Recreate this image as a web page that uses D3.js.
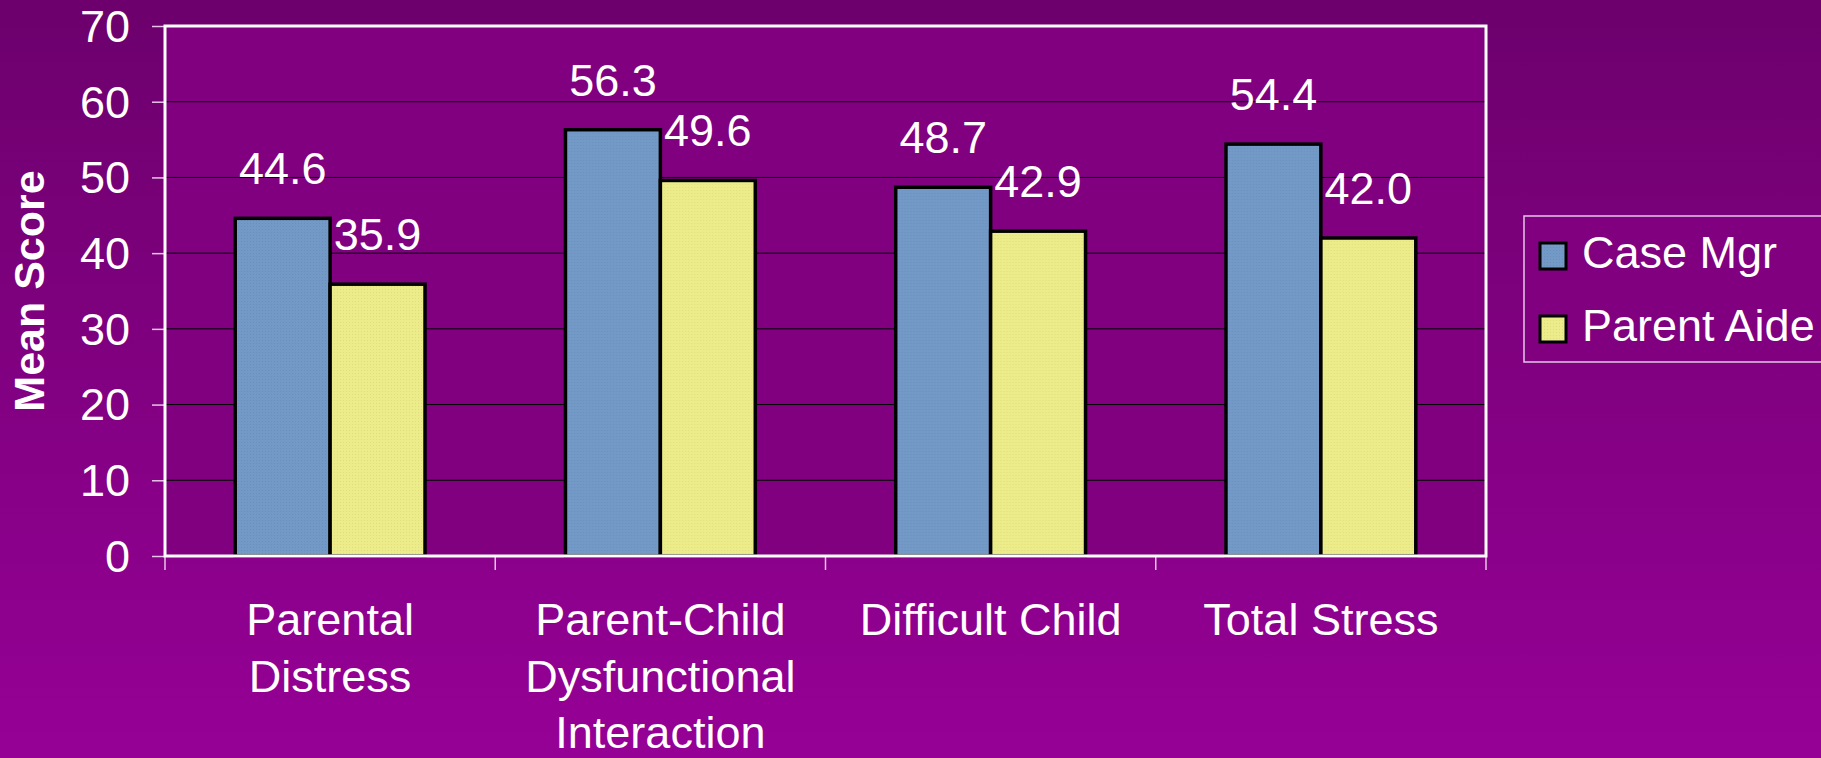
<!DOCTYPE html>
<html>
<head>
<meta charset="utf-8">
<script src="https://cdn.jsdelivr.net/npm/d3@7"></script>
<style>
  html, body { margin: 0; padding: 0; }
  body { width: 1821px; height: 758px; overflow: hidden; }
  text { font-family: Arial, "Liberation Sans", sans-serif; fill: #fff; }
</style>
</head>
<body>
<script>
// chart data
const categories = ["Parental Distress", "Parent-Child Dysfunctional Interaction", "Difficult Child", "Total Stress"]
const categoryLines = [["Parental", "Distress"], ["Parent-Child", "Dysfunctional", "Interaction"], ["Difficult Child"], ["Total Stress"]]
const series = ["Case Mgr", "Parent Aide"]
const caseMgr = [44.6, 56.3, 48.7, 54.4]
const parentAide = [35.9, 49.6, 42.9, 42.0]
const yTicks = [0, 10, 20, 30, 40, 50, 60, 70]
const colors = ["#7399c6", "#ecec8a"]

let W = 1821, H = 758
let plot = {left: 165, right: 1486, top: 26, bottom: 556}

let svg = d3.select("body").append("svg")
    .attr("width", W)
    .attr("height", H)

let defs = svg.append("defs")
let grad = defs.append("linearGradient").attr("id", "bg")
    .attr("x1", 0).attr("y1", 0).attr("x2", 0).attr("y2", 1)
grad.append("stop").attr("offset", "0%").attr("stop-color", "#6d006d")
grad.append("stop").attr("offset", "100%").attr("stop-color", "#960096")

// little dotted texture like the original fills
function texture(id, base, dot) {
    let p = defs.append("pattern").attr("id", id)
        .attr("width", 3).attr("height", 3).attr("patternUnits", "userSpaceOnUse")
    p.append("rect").attr("width", 3).attr("height", 3).attr("fill", base)
    p.append("rect").attr("x", 1).attr("y", 1).attr("width", 1).attr("height", 1).attr("fill", dot)
}
texture("pBlue", colors[0], "#6a8fbd")
texture("pYellow", colors[1], "#dede7e")

svg.append("rect").attr("width", W).attr("height", H).attr("fill", "url(#bg)")

let x0 = d3.scaleBand().domain(categories).range([plot.left, plot.right]).padding(0)
let x1 = d3.scaleBand().domain(series).range([0, x0.bandwidth()]).paddingInner(0).paddingOuter(0.74)
let y = d3.scaleLinear().domain([0, 70]).range([plot.bottom, plot.top])

// plot area
svg.append("rect")
    .attr("x", plot.left).attr("y", plot.top)
    .attr("width", plot.right - plot.left).attr("height", plot.bottom - plot.top)
    .attr("fill", "#800080")

// gridlines
svg.append("g").selectAll("line")
    .data(yTicks.filter(d => d > 0 && d < 70))
    .enter().append("line")
    .attr("x1", plot.left).attr("x2", plot.right)
    .attr("y1", d => y(d)).attr("y2", d => y(d))
    .attr("stroke", "#000").attr("stroke-width", 1)

// y axis
let yAxis = svg.append("g")
    .attr("transform", `translate(${plot.left},0)`)
    .call(d3.axisLeft(y).tickValues(yTicks).tickSize(13).tickPadding(22))
yAxis.select(".domain").remove()
yAxis.selectAll(".tick line").attr("stroke", "#e6c6e6").attr("stroke-width", 1.5)
yAxis.selectAll(".tick text")
    .attr("fill", "#fff").attr("font-size", 45)
    .attr("font-family", "Arial, 'Liberation Sans', sans-serif")
    .attr("dy", "0.34em")

// x axis ticks at band edges
let xEdges = categories.map(c => x0(c)).concat([plot.right])
svg.append("g").selectAll("line")
    .data(xEdges)
    .enter().append("line")
    .attr("x1", d => d).attr("x2", d => d)
    .attr("y1", plot.bottom).attr("y2", plot.bottom + 14)
    .attr("stroke", "#e6c6e6").attr("stroke-width", 1.5)

// bars
let rows = categories.map((c, i) => ({cat: c, vals: [caseMgr[i], parentAide[i]]}))
let groups = svg.append("g").selectAll("g")
    .data(rows)
    .enter().append("g")
    .attr("transform", d => `translate(${x0(d.cat)},0)`)

groups.selectAll("rect")
    .data(d => d.vals.map((v, j) => ({s: series[j], v: v, j: j})))
    .enter().append("rect")
    .attr("x", d => x1(d.s))
    .attr("y", d => y(d.v))
    .attr("width", x1.bandwidth())
    .attr("height", d => y(0) - y(d.v))
    .attr("fill", d => d.j == 0 ? "url(#pBlue)" : "url(#pYellow)")
    .attr("stroke", "#000").attr("stroke-width", 3.5)

groups.selectAll("text")
    .data(d => d.vals.map((v, j) => ({s: series[j], v: v})))
    .enter().append("text")
    .attr("x", d => x1(d.s) + x1.bandwidth() / 2)
    .attr("y", d => y(d.v) - 34)
    .attr("text-anchor", "middle")
    .attr("font-size", 45)
    .text(d => d.v.toFixed(1))

// plot frame
svg.append("rect")
    .attr("x", plot.left).attr("y", plot.top)
    .attr("width", plot.right - plot.left).attr("height", plot.bottom - plot.top)
    .attr("fill", "none").attr("stroke", "#fff").attr("stroke-width", 3)

// category labels
let catLabels = svg.append("g").selectAll("text")
    .data(categories)
    .enter().append("text")
    .attr("x", d => x0(d) + x0.bandwidth() / 2)
    .attr("y", 635)
    .attr("text-anchor", "middle")
    .attr("font-size", 45)
catLabels.selectAll("tspan")
    .data((d, i) => categoryLines[i])
    .enter().append("tspan")
    .attr("x", function() { return d3.select(this.parentNode).attr("x") })
    .attr("dy", (d, i) => i == 0 ? 0 : 56.5)
    .text(d => d)

// y title
svg.append("text")
    .attr("transform", `translate(44,${(plot.top + plot.bottom) / 2}) rotate(-90)`)
    .attr("text-anchor", "middle")
    .attr("font-size", 43)
    .attr("font-weight", "bold")
    .text("Mean Score")

// legend
let legend = svg.append("g")
legend.append("rect")
    .attr("x", 1524).attr("y", 216).attr("width", 330).attr("height", 146)
    .attr("fill", "#800080").attr("stroke", "#e6c6e6").attr("stroke-width", 1.5)
let items = legend.selectAll("g.item")
    .data(series)
    .enter().append("g").attr("class", "item")
    .attr("transform", (d, i) => `translate(1540,${243 + i * 73})`)
items.append("rect")
    .attr("width", 26).attr("height", 26)
    .attr("fill", (d, i) => i == 0 ? "url(#pBlue)" : "url(#pYellow)")
    .attr("stroke", "#000").attr("stroke-width", 3)
items.append("text")
    .attr("x", 42).attr("y", 25)
    .attr("font-size", 45)
    .text(d => d)
</script>
</body>
</html>
